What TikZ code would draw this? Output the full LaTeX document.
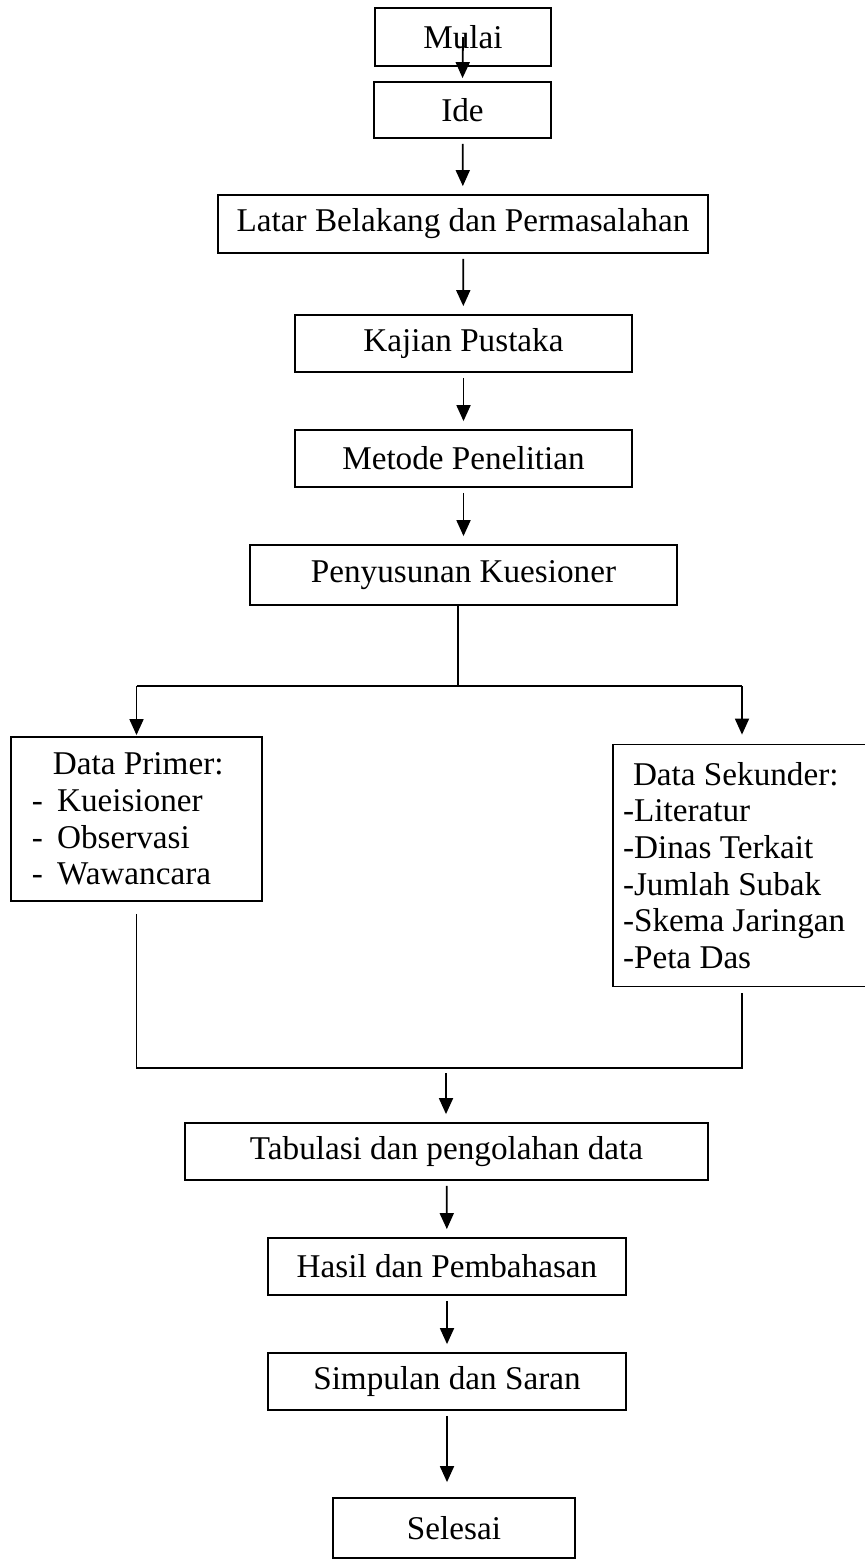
\documentclass[tikz,border=0pt]{standalone}
\usepackage{fontspec}
\setmainfont{Liberation Serif}
\usetikzlibrary{positioning,calc,arrows.meta}

\begin{document}
\begin{tikzpicture}[
    x=0.5pt, y=-0.5pt,
    box/.style={rectangle, draw=black, fill=white, line width=0.9pt,
                minimum height=29pt, inner sep=0pt, align=center,
                font=\fontsize{16.6}{18.35}\selectfont},
    listbox/.style={box, align=flush left, inner ysep=0pt},
    arrow/.style={->, >={Triangle[length=8pt, width=7pt]}, line width=0.9pt,
                  shorten <=2.5pt, shorten >=4pt},
    line/.style={line width=0.9pt}
]
\useasboundingbox (0,0) rectangle (864,1564);

\node[box, minimum width=88pt] (mulai) at (463,37) {Mulai};
\node[box, minimum width=88.5pt, minimum height=28pt] (ide) at (462.5,110) {Ide};
\node[box, minimum width=245pt] (latar) at (463,224) {Latar Belakang dan Permasalahan};
\node[box, minimum width=168.5pt, minimum height=28.5pt] (kajian) at (463.5,343.5) {Kajian Pustaka};
\node[box, minimum width=168.5pt, minimum height=28.5pt] (metode) at (463.5,458.5) {Metode Penelitian};
\node[box, minimum width=213.5pt, minimum height=30pt] (susun) at (463.5,575) {Penyusunan Kuesioner};

\node[listbox, text width=104.5pt, inner xsep=10.5pt, minimum height=82pt] (primer) at (136.5,819) {
    \hspace{10.5pt}Data Primer:\\
    -\hspace{7pt}Kueisioner\\
    -\hspace{7pt}Observasi\\
    -\hspace{7pt}Wawancara
};
\node[listbox, text width=119pt, inner xsep=5pt, minimum height=121pt] (sekunder) at (742,865.5) {
    \hspace{5pt}Data Sekunder:\\
    -Literatur\\
    -Dinas Terkait\\
    -Jumlah Subak\\
    -Skema Jaringan\\
    -Peta Das
};

\node[box, minimum width=261.5pt, minimum height=28.5pt] (tabulasi) at (446.5,1151.5) {Tabulasi dan pengolahan data};
\node[box, minimum width=179pt, minimum height=28.5pt] (hasil) at (447,1266.5) {Hasil dan Pembahasan};
\node[box, minimum width=179pt, minimum height=28.5pt] (simpulan) at (447,1381.5) {Simpulan dan Saran};
\node[box, minimum width=121pt, minimum height=30pt] (selesai) at (454,1528) {Selesai};

\coordinate (split) at (458,686);
\coordinate (merge) at (446,1068);

\draw[arrow, shorten <=0pt, shorten >=1.5pt] (mulai.center) -- (ide.north);
\draw[arrow] (ide) -- (latar);
\draw[arrow] (latar) -- (kajian);
\draw[arrow] (kajian) -- (metode);
\draw[arrow] (metode) -- (susun);

\draw[line] (susun.south -| split) -- (split);
\draw[line] (primer.north |- split) -- (sekunder.north |- split);
\draw[arrow, shorten <=0pt, shorten >=0.5pt] (primer.north |- split) -- (primer.north);
\draw[arrow, shorten <=0pt, shorten >=4.5pt] (sekunder.north |- split) -- (sekunder.north);

\draw[line, shorten <=6pt] (primer.south) -- (primer.south |- merge)
    -- (sekunder.south |- merge) -- ([yshift=-3pt]sekunder.south);
\draw[arrow] (merge) -- (tabulasi.north -| merge);

\draw[arrow] (tabulasi) -- (hasil);
\draw[arrow] (hasil) -- (simpulan);
\draw[arrow, shorten >=7.5pt] (simpulan.south) -- (simpulan.south |- selesai.north);

\end{tikzpicture}
\end{document}
